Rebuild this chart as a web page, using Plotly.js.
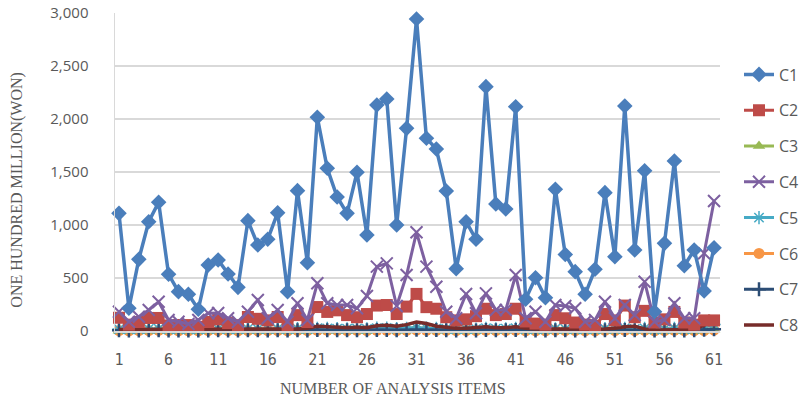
<!DOCTYPE html>
<html>
<head>
<meta charset="utf-8">
<script src="https://cdn.plot.ly/plotly-3.0.1.min.js"></script>
<style>html,body{margin:0;padding:0;background:#fff;}#chart{width:802px;height:402px;}</style>
</head>
<body>
<div id="chart"></div>
<script>
const items = Array.from({length: 61}, (_, i) => i + 1);
const seriesNames = ["C1","C2","C3","C4","C5","C6","C7","C8"];
const c1 = [1110,214,676,1031,1214,535,371,346,205,623,670,538,412,1041,811,865,1116,371,1324,644,
            2016,1535,1264,1110,1497,906,2132,2189,1000,1912,2943,1818,1717,1321,588,1031,865,2305,1198,1151,
            2116,299,503,314,1337,722,560,346,582,1305,701,2123,764,1512,182,827,1604,616,764,377,786];
const c2 = [125,60,85,123,123,52,57,56,40,85,110,75,55,132,115,100,132,55,150,85,
            226,180,195,150,130,160,240,245,160,230,350,225,210,130,100,110,140,210,150,160,
            210,90,70,60,150,120,80,60,50,160,100,240,130,190,80,110,180,80,60,100,100];
const c3 = [3,2,4,3,5,2,2,3,1,3,4,3,2,4,3,3,5,2,4,3,6,5,4,4,5,3,6,6,4,5,8,6,5,4,2,3,3,6,4,4,
            6,2,2,2,4,3,2,2,2,4,3,6,3,5,2,3,5,2,3,4,6];
const c4 = [182,88,135,198,276,104,88,66,104,167,170,120,88,182,292,120,198,88,261,104,
            450,261,245,245,214,330,607,638,236,528,931,607,418,182,120,349,167,355,198,198,
            528,120,182,88,245,236,214,88,104,276,120,245,151,465,88,104,261,120,120,733,1226];
const c5 = [18,15,17,20,22,16,15,15,14,18,20,17,15,20,19,18,21,15,22,18,26,24,22,21,23,20,27,28,22,26,
            32,27,25,22,17,19,19,26,21,21,26,15,16,15,21,19,17,15,16,22,18,26,19,24,14,18,24,17,20,40,62];
const c6 = [4,2,3,4,5,3,2,2,2,3,3,3,2,4,3,3,4,2,5,3,7,6,5,4,5,4,7,7,4,6,9,7,6,5,3,4,3,7,4,4,
            7,2,2,2,5,3,3,2,2,5,3,7,3,5,2,3,6,3,3,4,8];
const c7 = [6,4,5,6,7,5,4,4,4,5,6,5,4,6,6,5,6,4,7,5,9,8,7,7,8,6,10,10,7,9,12,10,9,7,5,6,5,9,6,6,
            9,4,5,4,7,6,5,4,5,7,5,10,8,8,4,5,8,5,6,12,16];
const c8 = [15,15,18,15,20,15,12,15,12,18,20,15,12,18,20,15,18,12,20,25,
            45,40,35,30,35,30,50,55,45,60,85,70,45,35,25,25,30,40,30,30,
            40,25,20,20,25,20,18,15,15,20,25,40,45,20,10,10,12,10,15,55,110];
const yTickVals = [0,500,1000,1500,2000,2500,3000];
const yTickText = ["0","500","1,000","1,500","2,000","2,500","3,000"];
const xTitle = "NUMBER OF ANALYSIS ITEMS";
const yTitle = "ONE HUNDRED MILLION(WON)";

const colors = ["#4a7ebb","#be4b48","#98b954","#7d60a0","#46aac5","#f79646","#2c4d75","#772c2a"];
const vals = [c1,c2,c3,c4,c5,c6,c7,c8];
const markers = [
  {symbol:"diamond", size:12},
  {symbol:"square", size:12},
  {symbol:"triangle-up", size:11},
  {symbol:"x-thin", size:12, line:{width:2}},
  {symbol:"asterisk", size:11, line:{width:1.5}},
  {symbol:"circle", size:11},
  {symbol:"cross-thin", size:10, line:{width:2.5}},
  null
];
const widths = [3.5,3,3,3,3,3,3,3.5];
// draw order (bottom to top)
const order = [5,2,4,6,7,1,3,0];
const traces = order.map(i => {
  const t = {
    type:"scatter", x: items, y: vals[i], name: seriesNames[i],
    legendgroup: seriesNames[i], legendrank: i+1,
    mode: markers[i] ? "lines+markers" : "lines",
    line: {color: colors[i], width: widths[i]},
    cliponaxis: false
  };
  if (markers[i]) {
    const m = Object.assign({color: colors[i]}, markers[i]);
    if (m.line) m.line = Object.assign({color: colors[i]}, m.line);
    t.marker = m;
  }
  return t;
});

// plot box 115..792; axis occupies 115..720
const boxW = 802 - 115 - 10;
const layout = {
  width: 802, height: 402,
  margin: {l:115, r:10, t:13, b:71, autoexpand:false},
  paper_bgcolor:"#fff", plot_bgcolor:"#fff",
  showlegend: true,
  legend: {x:(739-115)/boxW, y:0.86, xanchor:"left", yanchor:"top", tracegroupgap:12,
           font:{family:"Open Sans, sans-serif", size:16, color:"#595959"}, bgcolor:"rgba(0,0,0,0)"},
  xaxis: {domain:[0, 605/boxW], range:[0.6,61.6], tick0:1, dtick:5, tickmode:"linear", showgrid:false, zeroline:false,
          showline:true, linecolor:"#d9d9d9", linewidth:1.5, ticks:"",
          ticklabelstandoff:14,
          tickfont:{family:"DejaVu Sans Mono, monospace", size:15, color:"#595959"}},
  yaxis: {range:[0,3000], tickvals:yTickVals, ticktext:yTickText, showgrid:true, gridcolor:"#d9d9d9", gridwidth:1.5,
          zeroline:false, showline:true, linecolor:"#d9d9d9", linewidth:1.5, ticks:"",
          ticklabelstandoff:22,
          tickfont:{family:"Open Sans, sans-serif", size:15, color:"#595959"}},
  annotations: [
    {text:xTitle, xref:"paper", yref:"paper", x:(392.5-115)/boxW, y:-0.182, xanchor:"center", yanchor:"middle", showarrow:false,
     font:{family:"Liberation Serif, serif", size:16, color:"#595959"}},
    {text:yTitle, xref:"paper", yref:"paper", x:(17.5-115)/boxW, y:0.443, xanchor:"center", yanchor:"middle", showarrow:false, textangle:-90,
     font:{family:"Liberation Serif, serif", size:16, color:"#595959"}}
  ]
};
Plotly.newPlot("chart", traces, layout, {displayModeBar:false, staticPlot:true});
</script>
</body>
</html>
